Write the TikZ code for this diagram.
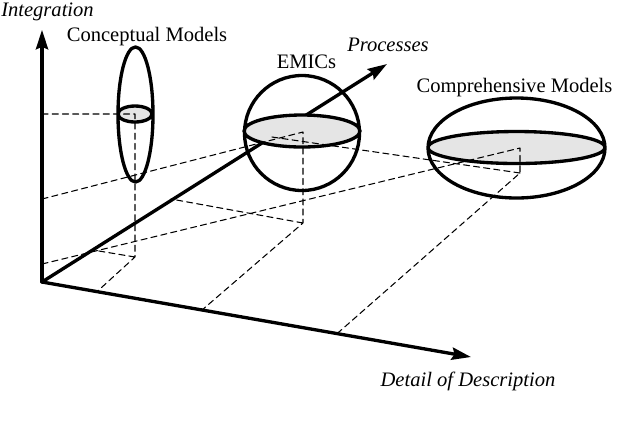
\documentclass[tikz,border=0pt]{standalone}
\usepackage{fontspec}
\setmainfont{Liberation Serif}
\usetikzlibrary{arrows.meta}
\begin{document}
\begin{tikzpicture}[x=0.02cm,y=-0.02cm,font=\fontsize{11.7}{13}\selectfont,line join=round,line cap=round,
	>={Stealth[length=11pt,width=7pt,inset=1.5pt]},
	axisline/.style={line width=1.9pt},
	body/.style={line width=1.9pt},
	guide/.style={line width=0.6pt,dash pattern=on 3.5pt off 2.3pt},
	disc/.style={fill=black!10}]
			\useasboundingbox (0,0) rectangle (638,424);
			\coordinate (O) at (42,282);
			\coordinate (I) at (42,30);
			\coordinate (D) at (471,357);
			\coordinate (P) at (387,64);
			% axes
			\draw[axisline,->] (O)--(I);
			\draw[axisline,->] (O)--(D);
			\draw[axisline,->] (O)--(P);
			% discs
			\fill[disc] (135,114) ellipse [x radius=17, y radius=8];
			\fill[disc] (302,131) ellipse [x radius=58, y radius=16];
			\fill[disc] (516.5,147.5) ellipse [x radius=88.5, y radius=16];
			% projections
			\foreach \cx/\cy/\fy/\ax/\px/\py/\yy in {135/114/257/97/93/250/114,303/132/223/202/171/199/199,520/148/173/337/272/137/264}{
				\draw[guide] (42,\yy)--(\cx,\cy)--(\cx,\fy)--(\ax,{282+0.1752*(\ax-42)})
				(\cx,\fy)--(\px,\py);}
			% models
			\draw[body] (135.5,114.5) ellipse [x radius=17.5, y radius=67.5]
			(135,114) ellipse [x radius=17, y radius=8];
			\draw[body] (302,133) circle [radius=57.5]
			(302,131) ellipse [x radius=58, y radius=16];
			\draw[body] (516.5,148) ellipse [x radius=88.5, y radius=50]
			(516.5,147.5) ellipse [x radius=88.5, y radius=16];
			% labels
			\node (int) at (47.5,12) {\textit{Integration}};
			\node (con) at (147,37) {Conceptual Models};
			\node (emic) at (306.5,61.5) {EMICs};
			\node (proc) at (388,44.5) {\textit{Processes}};
			\node (comp) at (514.5,88) {Comprehensive Models};
			\node (det) at (468,381) {\textit{Detail of Description}};
\end{tikzpicture}
\end{document}
